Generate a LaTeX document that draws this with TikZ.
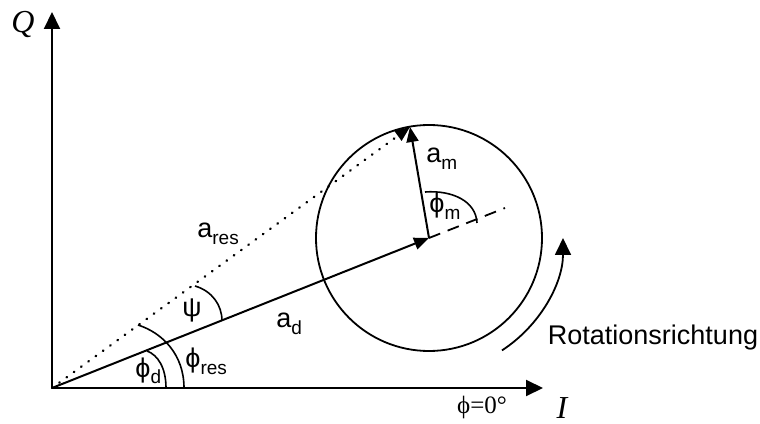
\documentclass[tikz,border=0pt]{standalone}
\usepackage{fontspec}
\setmainfont{Liberation Sans}
\newfontfamily\timesfont{Liberation Serif}
\usetikzlibrary{arrows.meta}
\newcommand{\idx}[1]{\raisebox{-0.45ex}{\fontsize{9.5}{10}\selectfont #1}}

\begin{document}
\begin{tikzpicture}[x=0.5pt,y=0.5pt,
  axis/.style={line width=1pt,-{Triangle[length=8.5pt,width=8pt]}},
  vec/.style={line width=1pt,-{Triangle[length=7.5pt,width=6pt]}},
  angmark/.style={line width=0.8pt},
  lbl/.style={font=\fontsize{13.5}{14}\selectfont,inner sep=0pt},
  axlbl/.style={font=\timesfont\itshape\fontsize{16}{17}\selectfont,inner sep=0pt}
]
\useasboundingbox (0,0) rectangle (760,423);

% points
\coordinate (O) at (52,35);
\coordinate (Qend) at (52,411);
\coordinate (Iend) at (543,35);
\coordinate (C) at (429,185);
\coordinate (M) at (410,296);
\coordinate (Dext) at (505,215);

% axes
\draw[axis] (O) -- (Qend);
\draw[axis] (O) -- (Iend);
\node[axlbl] (qlbl) at (23,398) {Q};
\node[axlbl] (ilbl) at (562,15) {I};
\node[inner sep=0pt,font=\timesfont\fontsize{12.5}{13}\selectfont] (zero) at (482,16) {ϕ=0°};

% circle and vectors
\draw[line width=0.9pt] (C) circle (113);
\draw[vec] (O) -- (C);
\draw[vec] (C) -- (M);
\draw[vec,line width=1.2pt,line cap=round,dash pattern=on 0.3pt off 4.2pt] (O) -- (M);
\draw[line width=0.9pt,dash pattern=on 6pt off 4pt] (C) -- (Dext);

% angles
\draw[angmark] (166,35) .. controls (166,55) and (158,68) .. (147,72);
\draw[angmark] (184,35) .. controls (184,68) and (163,90) .. (138,98);
\draw[angmark] (195,137) .. controls (212,132) and (222,118) .. (222,102);
\draw[angmark] (425,231) .. controls (452,233) and (476,222) .. (477,200);

% rotation
\draw[axis,line width=0.9pt] ([shift={(-57:134)}]C) arc (-57:0:134);
\node[lbl] (rot) at (653,85) {Rotationsrichtung};

% labels
\node[lbl,anchor=base west] (ares) at (197,185) {a\idx{res}};
\node[lbl,anchor=base west] (ad) at (276,95) {a\idx{d}};
\node[lbl,anchor=base west] (am) at (426,260) {a\idx{m}};
\node[lbl,anchor=base west] (phim) at (429,210) {ϕ\idx{m}};
\node[lbl,anchor=base west] (phid) at (135,46) {ϕ\idx{d}};
\node[lbl,anchor=base west] (phires) at (185,55) {ϕ\idx{res}};
\node[lbl] (psi) at (192,113) {ψ};
\end{tikzpicture}
\end{document}
